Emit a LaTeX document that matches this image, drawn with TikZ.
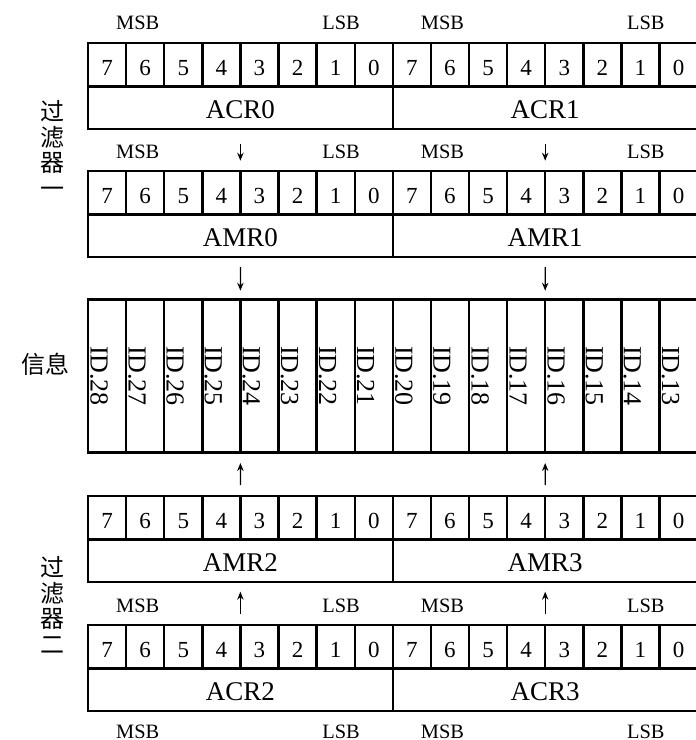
\documentclass[tikz,border=0pt]{standalone}
\usepackage{fontspec}
\setmainfont{Liberation Serif}
\newfontfamily\cjkfont{Noto Sans CJK SC}
\usetikzlibrary{arrows.meta, positioning}

\begin{document}
\begin{tikzpicture}[x=0.5pt, y=-0.5pt,
    every node/.style={outer sep=0pt},
    bitcell/.style={draw, line width=1.2pt, minimum width=19.05pt, minimum height=21.5pt, inner sep=0pt, text height=11.3pt, text depth=0pt, font=\fontsize{11.5}{13}\selectfont},
    regbox/.style={draw, line width=1.2pt, minimum width=152.4pt, minimum height=21.25pt, inner sep=0pt, text height=10.4pt, text depth=0pt, font=\fontsize{13.5}{15}\selectfont},
    idcell/.style={draw, line width=1.2pt, minimum width=19.05pt, minimum height=76.5pt, inner sep=0pt},
    idtext/.style={rotate=-90, anchor=base, inner sep=0pt, font=\fontsize{13}{14}\selectfont},
    bitlabel/.style={inner sep=0pt, font=\fontsize{10.2}{12}\selectfont},
    sidelabel/.style={inner sep=0pt, align=center, font=\cjkfont\fontsize{12}{12.9}\selectfont},
    arr/.style={-{Stealth[length=4pt, width=3.2pt]}, line width=0.6pt},
]
\useasboundingbox (0,0) rectangle (696,740);

% register blocks: bit row over name row
\foreach \name/\half/\top in {ACR0/0/43, ACR1/1/43, AMR0/0/171, AMR1/1/171, AMR2/0/496, AMR3/1/496, ACR2/0/625, ACR3/1/625} {
  \foreach \b in {0,...,7}
    \node[bitcell] (\name b\b) at ({88+(8*\half+7-\b+0.5)*38.1}, {\top+21.5}) {\b};
  \node[regbox] (\name) at ({88+(8*\half+4)*38.1}, {\top+64.75}) {\name};
}

% message identifier bits
\foreach \i in {0,...,15} {
  \pgfmathtruncatemacro\idn{28-\i}
  \node[idcell] (id\idn) at ({88+(\i+0.5)*38.1}, 376) {};
  \node[idtext] (idlab\idn) at ([xshift=1.25pt]id\idn.west) {ID.\idn};
}

% MSB / LSB marks
\foreach \half/\tag in {0/L, 1/R}
  \foreach \y/\row in {22.5/a, 152/b, 606/c, 731.5/d} {
    \node[bitlabel] (msb\tag\row) at ({137.7+304.8*\half}, \y) {MSB};
    \node[bitlabel] (lsb\tag\row) at ({341+304.8*\half}, \y) {LSB};
  }

\node[sidelabel] (filter1) at (52, 149) {过\\滤\\器\\一};
\node[sidelabel] (message) at (45, 364) {信息};
\node[sidelabel] (filter2) at (52, 605) {过\\滤\\器\\二};

\foreach \acr/\amr/\idx in {ACR0/AMR0/id24, ACR1/AMR1/id16} {
  \draw[arr, shorten <=7.25pt, shorten >=5.15pt] (\acr.south -| \acr b4.east) -- (\amr b4.north east);
  \draw[arr, shorten <=5pt, shorten >=4.4pt] (\amr.south -| \amr b4.east) -- (\idx.north west);
}
\foreach \acr/\amr/\idx in {ACR2/AMR2/id24, ACR3/AMR3/id16} {
  \draw[arr, shorten <=5.5pt, shorten >=5.25pt] (\amr b4.north east) -- (\idx.south west);
  \draw[arr, shorten <=5.5pt, shorten >=4.85pt] (\acr b4.north east) -- (\amr.south -| \amr b4.east);
}
\end{tikzpicture}
\end{document}
